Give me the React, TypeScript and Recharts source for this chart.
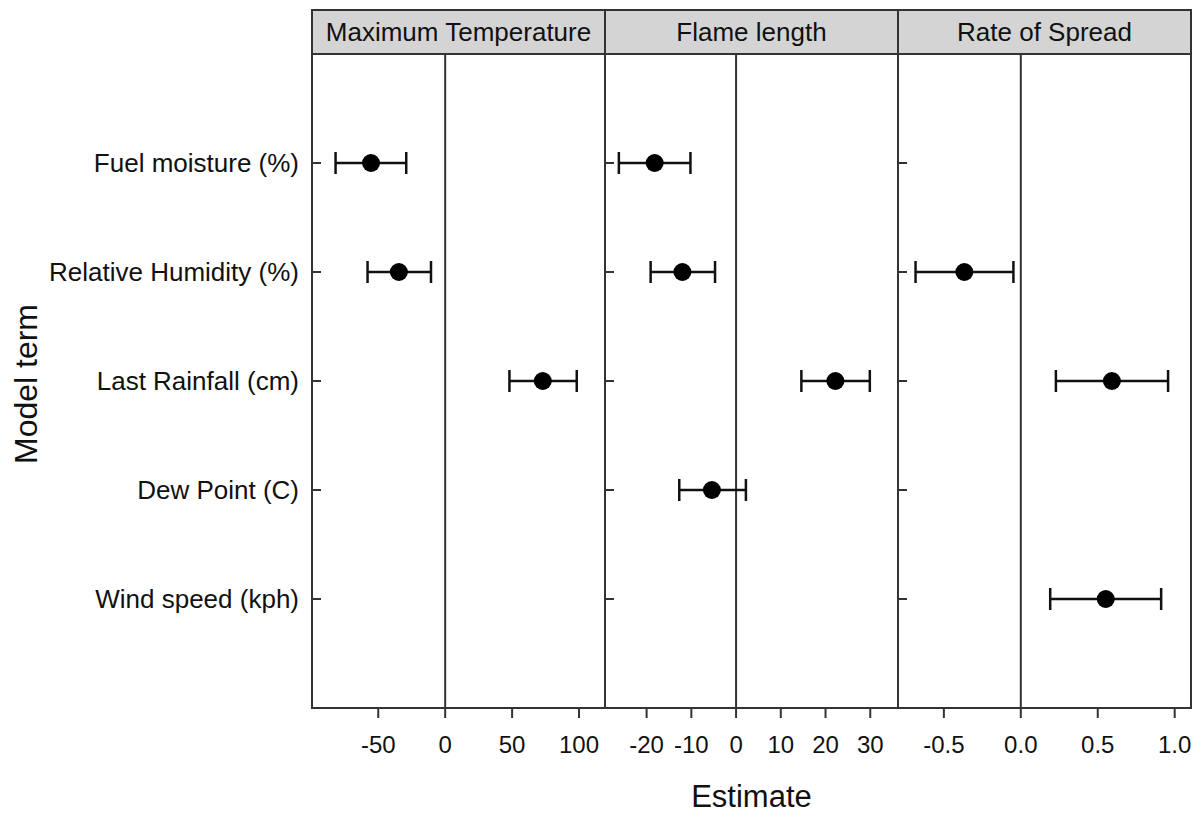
import React from 'react';
import { ScatterChart, Scatter, XAxis, YAxis, ErrorBar, ReferenceLine } from 'recharts';

const terms = ['Fuel moisture (%)', 'Relative Humidity (%)', 'Last Rainfall (cm)', 'Dew Point (C)', 'Wind speed (kph)'];
const panelTitles = ['Maximum Temperature', 'Flame length', 'Rate of Spread'];

// estimates and interval bounds per term (null = term not in model)
const tempEst = [-55.4, -34.6, 72.9, null, null];
const tempLow = [-81.9, -58.0, 48.0, null, null];
const tempHigh = [-29.1, -10.6, 98.3, null, null];

const flameEst = [-18.2, -12.0, 22.2, -5.4, null];
const flameLow = [-26.2, -19.1, 14.6, -12.7, null];
const flameHigh = [-10.2, -4.7, 29.9, 2.2, null];

const spreadEst = [null, -0.367, 0.592, null, 0.552];
const spreadLow = [null, -0.684, 0.228, null, 0.191];
const spreadHigh = [null, -0.048, 0.957, null, 0.912];

const tempTicks = [-50, 0, 50, 100];
const flameTicks = [-20, -10, 0, 10, 20, 30];
const spreadTicks = [-0.5, 0, 0.5, 1.0];

const FONT = '"Liberation Sans", Arial, Helvetica, sans-serif';
const LINE = '#333';
const PLOT_TOP = 54;
const PLOT_H = 654;
const PANEL_W = 293;

function buildRows(est: (number | null)[], low: (number | null)[], high: (number | null)[]) {
  const rows: { row: number; est: number; err: [number, number] }[] = [];
  est.forEach((e, i) => {
    if (e === null) return;
    rows.push({ row: i + 1, est: e, err: [e - (low[i] as number), (high[i] as number) - e] });
  });
  return rows;
}

const panels = [
  { title: panelTitles[0], data: buildRows(tempEst, tempLow, tempHigh), ticks: tempTicks, domain: [-99.5, 119.4], left: 312, fmt: (v: number) => String(v) },
  { title: panelTitles[1], data: buildRows(flameEst, flameLow, flameHigh), ticks: flameTicks, domain: [-29.3, 36.2], left: 605, fmt: (v: number) => String(v) },
  { title: panelTitles[2], data: buildRows(spreadEst, spreadLow, spreadHigh), ticks: spreadTicks, domain: [-0.798, 1.106], left: 898, fmt: (v: number) => v.toFixed(1) },
];

const RowTick = (props: any) => {
  const { x, y, payload, showLabel } = props;
  return (
    <g>
      <line x1={x} x2={x + 9} y1={y} y2={y} stroke={LINE} strokeWidth={2} />
      {showLabel && (
        <text x={x - 13} y={y} dy="0.36em" textAnchor="end" fontSize={26} fontFamily={FONT} fill="#111">
          {terms[payload.value - 1]}
        </text>
      )}
    </g>
  );
};

const Dot = (props: any) => <circle cx={props.cx} cy={props.cy} r={9} fill="#000" />;

function Panel({ p, first }: { p: (typeof panels)[number]; first: boolean }) {
  const yw = first ? 312 : 1;
  return (
    <div style={{ position: 'absolute', left: p.left - yw, top: PLOT_TOP }}>
      <ScatterChart width={PANEL_W + yw} height={PLOT_H + 60} margin={{ top: 0, right: 0, bottom: 0, left: 0 }}>
        <XAxis
          type="number"
          dataKey="est"
          domain={p.domain}
          allowDataOverflow
          ticks={p.ticks}
          tickFormatter={p.fmt}
          axisLine={false}
          tickLine={{ stroke: LINE, strokeWidth: 2 }}
          tickSize={10}
          tickMargin={18}
          height={60}
          interval={0}
          tick={{ fontSize: 24, fill: '#111', fontFamily: FONT }}
        />
        <YAxis
          type="number"
          dataKey="row"
          domain={[0, 6]}
          reversed
          allowDataOverflow
          ticks={[1, 2, 3, 4, 5]}
          width={yw}
          axisLine={false}
          tickLine={false}
          tickSize={0}
          tickMargin={0}
          interval={0}
          tick={<RowTick showLabel={first} />}
        />
        <ReferenceLine x={0} stroke={LINE} strokeWidth={2} />
        <Scatter data={p.data} fill="#000" shape={<Dot />} isAnimationActive={false}>
          <ErrorBar dataKey="err" direction="x" width={11} stroke="#111" strokeWidth={2.5} />
        </Scatter>
      </ScatterChart>
    </div>
  );
}

export default function App() {
  return (
    <div style={{ position: 'absolute', left: 0, top: 0, width: 1203, height: 817, background: '#fff', fontFamily: FONT, color: '#111' }}>
      {panels.map((p, i) => (
        <Panel key={p.title} p={p} first={i === 0} />
      ))}
      {panels.map((p) => (
        <div
          key={'b' + p.title}
          style={{ position: 'absolute', left: p.left - 1, top: PLOT_TOP - 1, width: PANEL_W + 2, height: PLOT_H + 2, border: `2px solid ${LINE}`, boxSizing: 'border-box', pointerEvents: 'none' }}
        />
      ))}
      {panels.map((p) => (
        <div
          key={'s' + p.title}
          style={{
            position: 'absolute', left: p.left - 1, top: 9, width: PANEL_W + 2, height: PLOT_TOP - 8,
            background: '#d4d4d4', border: `2px solid ${LINE}`, boxSizing: 'border-box',
            display: 'flex', alignItems: 'center', justifyContent: 'center', fontSize: 26,
          }}
        >
          {p.title}
        </div>
      ))}
      <div style={{ position: 'absolute', left: 312, width: 879, top: 779, textAlign: 'center', fontSize: 31 }}>Estimate</div>
      <div
        style={{ position: 'absolute', left: 26, top: 384, transform: 'translate(-50%, -50%) rotate(-90deg)', fontSize: 32, whiteSpace: 'nowrap' }}
      >
        Model term
      </div>
    </div>
  );
}
